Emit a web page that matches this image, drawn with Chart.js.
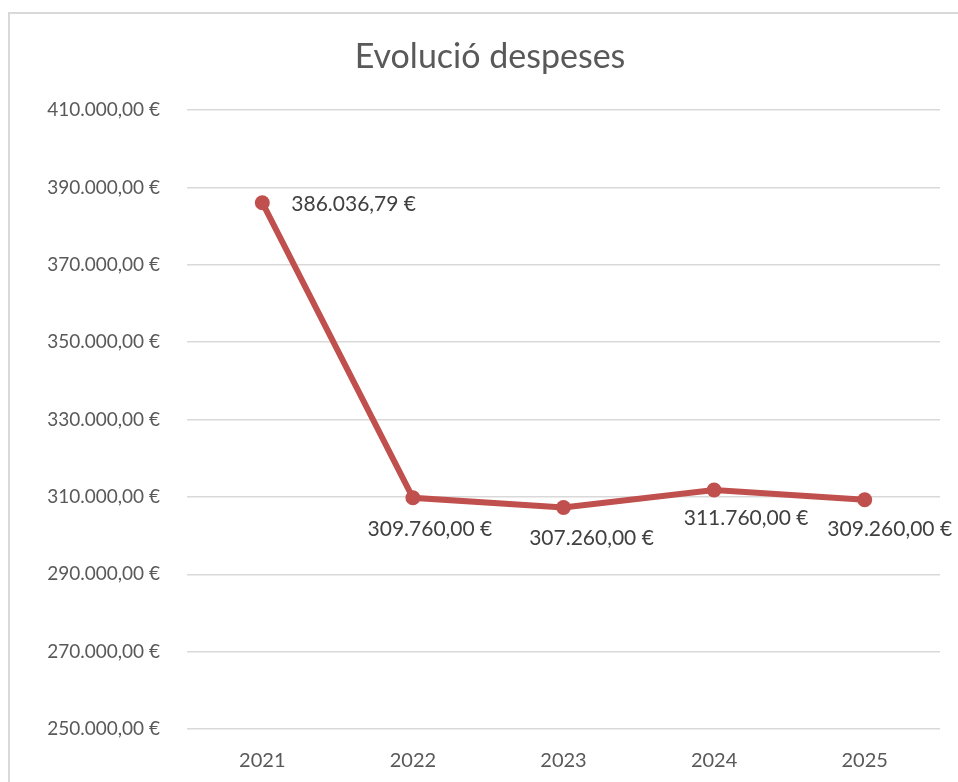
<!DOCTYPE html>
<html>
<head>
<meta charset="utf-8">
<script src="https://cdn.jsdelivr.net/npm/chart.js@4/dist/chart.umd.min.js"></script>
<style>
  html, body { margin: 0; padding: 0; background: #ffffff; }
  canvas { display: block; }
</style>
</head>
<body>
<canvas id="chart" width="958" height="782"></canvas>
<script>
// Years and yearly expenses (EUR)
const years = ['2021', '2022', '2023', '2024', '2025'];
const expenses = [386036.79, 309760.00, 307260.00, 311760.00, 309260.00];
const axisMin = 250000;
const axisMax = 410000;
const axisStep = 20000;

const FONT = 'Lato, "Open Sans", "Liberation Sans", sans-serif';

const euro = (v) => v.toLocaleString('de-DE', { minimumFractionDigits: 2, maximumFractionDigits: 2 }) + ' €';

// Label placement relative to each point (pixels)
const labelOffsets = [
  { dx: 29, dy: 2, align: 'left' },
  { dx: 17, dy: 31, align: 'center' },
  { dx: 28, dy: 31, align: 'center' },
  { dx: 32, dy: 28, align: 'center' },
  { dx: 25, dy: 29, align: 'center' }
];

const frameAndTitle = {
  id: 'frameAndTitle',
  beforeDraw(chart) {
    const ctx = chart.ctx;
    ctx.save();
    ctx.fillStyle = '#ffffff';
    ctx.fillRect(0, 0, chart.width, chart.height);
    ctx.strokeStyle = '#d9d9d9';
    ctx.lineWidth = 2;
    ctx.strokeRect(9, 13, chart.width + 50, chart.height + 50);
    ctx.fillStyle = '#595959';
    ctx.font = '34px ' + FONT;
    ctx.textAlign = 'center';
    ctx.textBaseline = 'middle';
    ctx.fillText('Evolució despeses', 490, 57);
    ctx.restore();
  }
};

const valueLabels = {
  id: 'valueLabels',
  afterDatasetsDraw(chart) {
    const ctx = chart.ctx;
    const meta = chart.getDatasetMeta(0);
    ctx.save();
    ctx.fillStyle = '#404040';
    ctx.font = '21px ' + FONT;
    ctx.textBaseline = 'middle';
    meta.data.forEach((pt, i) => {
      const o = labelOffsets[i];
      ctx.textAlign = o.align;
      ctx.fillText(euro(expenses[i]), pt.x + o.dx, pt.y + o.dy);
    });
    ctx.restore();
  }
};

new Chart(document.getElementById('chart'), {
  type: 'line',
  data: {
    labels: years,
    datasets: [{
      data: expenses,
      borderColor: '#c0504d',
      backgroundColor: '#c0504d',
      borderWidth: 6,
      pointRadius: 7.5,
      pointBorderWidth: 0,
      pointBackgroundColor: '#c0504d',
      tension: 0,
      fill: false
    }]
  },
  options: {
    responsive: false,
    animation: false,
    layout: { padding: { top: 110, right: 18, bottom: 0, left: 0 } },
    plugins: {
      legend: { display: false },
      title: { display: false },
      tooltip: { enabled: false }
    },
    scales: {
      x: {
        offset: true,
        grid: { display: false, drawTicks: false },
        border: { display: false },
        ticks: { color: '#595959', font: { family: FONT, size: 20 }, padding: 20, maxRotation: 0 },
        afterFit(scale) { scale.height = 53; }
      },
      y: {
        min: axisMin,
        max: axisMax,
        grid: { color: '#d9d9d9', lineWidth: 1.5, drawTicks: false },
        border: { display: false },
        ticks: {
          stepSize: axisStep,
          color: '#595959',
          font: { family: FONT, size: 19 },
          padding: 27,
          callback: (v) => euro(v)
        },
        afterFit(scale) { scale.width = 187; }
      }
    }
  },
  plugins: [frameAndTitle, valueLabels]
});
</script>
</body>
</html>
